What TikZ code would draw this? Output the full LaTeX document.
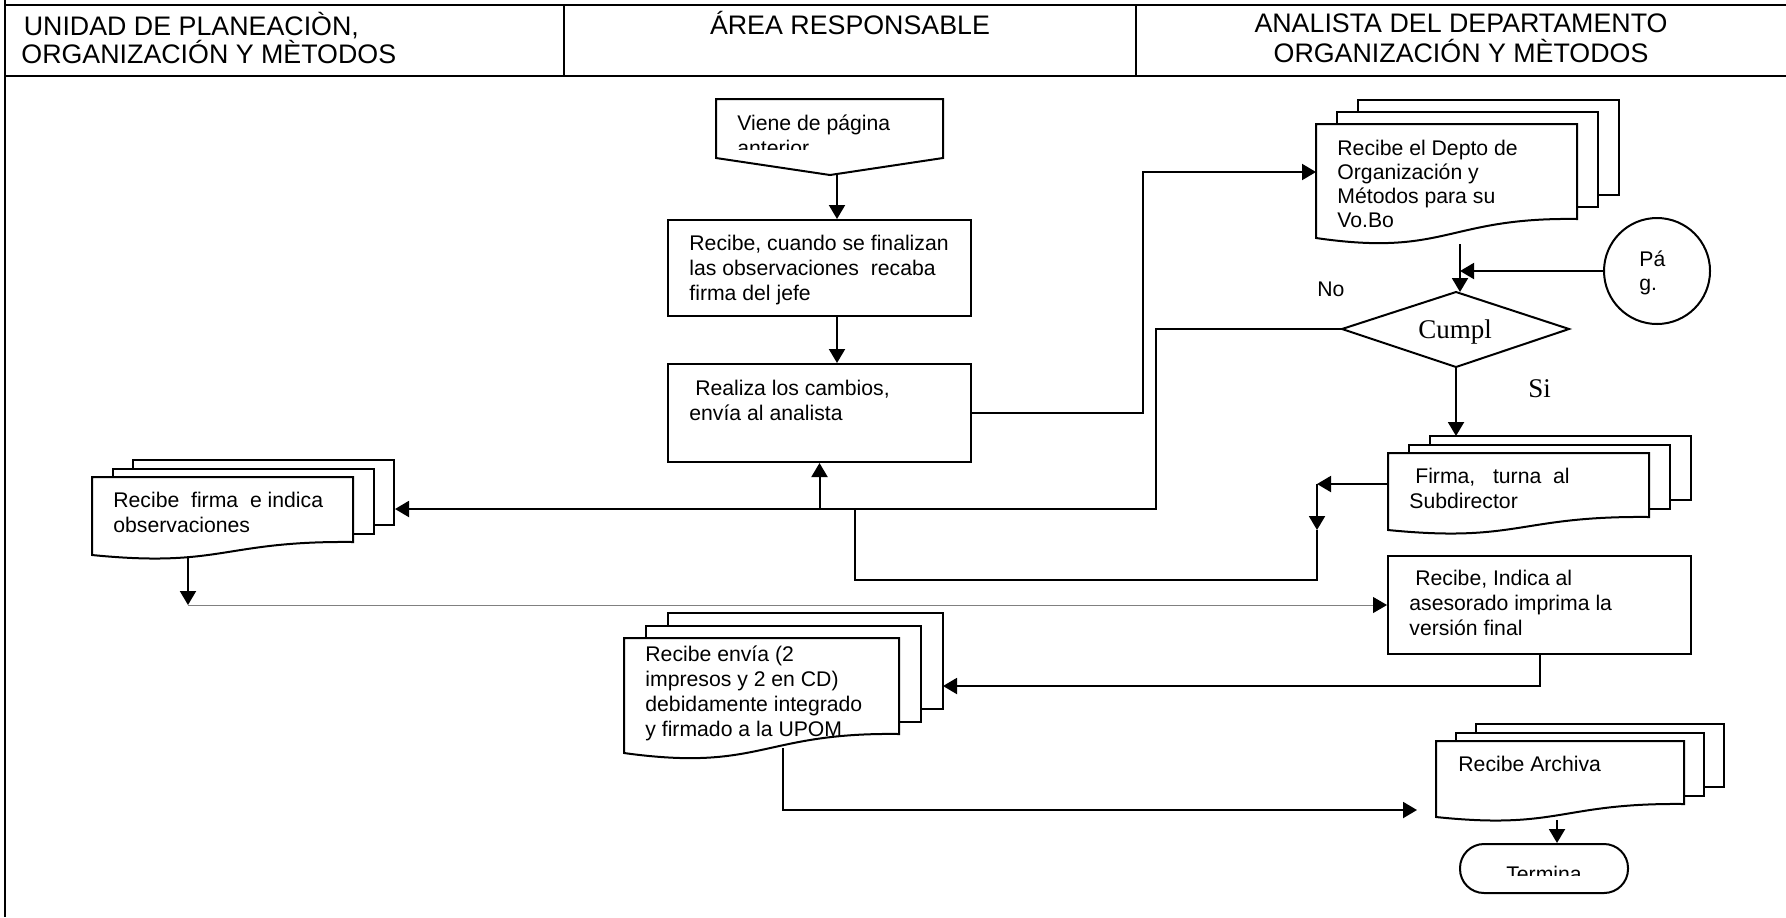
\documentclass[tikz,border=0pt]{standalone}
\usepackage{fontspec}
\setmainfont{Liberation Sans}
\newfontfamily\timesf{Liberation Serif}
\usetikzlibrary{arrows.meta,calc}
\newcommand\mlines[1]{\begin{tabular}[t]{@{}l@{}}#1\end{tabular}}
\newcommand\docstack[8]{% #1 name, #2 L, #3 T, #4 W, #5 H, #6 d, #7 dx, #8 dy
  \draw[shp] ({#2+2*#7},{#3-2*#8}) rectangle ({#2+#4+2*#7},{#3+#5-2*#8});
  \draw[shp] ({#2+#7},{#3-#8}) rectangle ({#2+#4+#7},{#3+#5-#8});
  \draw[shp] (#2,#3) -- ({#2+#4},#3) -- ({#2+#4},{#3+#5})
     .. controls ({#2+0.5*#4},{#3+#5-0.1*#6}) and ({#2+0.5*#4},{#3+#5+2*#6}) .. (#2,{#3+#5+#6}) -- cycle;
}
\tikzset{
  ln/.style={line width=1pt,draw=black},
  arr/.style={ln,-{Triangle[length=7pt,width=8pt,color=black]}},
  thinarr/.style={line width=0.5pt,draw=black!50,-{Triangle[length=7pt,width=8pt,color=black]}},
  shp/.style={line width=1pt,draw=black,fill=white},
  boxs/.style={shp,rectangle,inner sep=0pt},
  hline/.style={line width=1.2pt,draw=black},
  txt/.style={inner sep=0pt,anchor=base west,font=\fontsize{10.6}{12.6}\selectfont},
  txtb/.style={txt,font=\fontsize{10.6}{12}\selectfont},
  hdr/.style={inner sep=0pt,font=\fontsize{13.4}{15}\selectfont},
  ser/.style={inner sep=0pt,font=\timesf\fontsize{13.5}{15}\selectfont},
}
\begin{document}
\begin{tikzpicture}[x=0.5pt,y=-0.5pt]
\useasboundingbox (0,0) rectangle (1786,917);
% table frame
\draw[hline] (5,0) -- (5,917);
\draw[hline] (5,5) -- (1786,5);
\draw[hline] (5,76) -- (1786,76);
\draw[hline] (564,5) -- (564,76);
\draw[hline] (1136,5) -- (1136,76);
\node[hdr,anchor=base west] (h1a) at (16,35.5) {\ UNIDAD DE PLANEACIÒN,};
\node[hdr,anchor=base west] (h1b) at (21,63) {ORGANIZACIÓN Y MÈTODOS};
\node[hdr,anchor=base] (h2) at (850,34) {ÁREA RESPONSABLE};
\node[hdr,anchor=base] (h3a) at (1461,32) {ANALISTA DEL DEPARTAMENTO};
\node[hdr,anchor=base] (h3b) at (1461,62) {ORGANIZACIÓN Y MÈTODOS};

% off-page connector
\draw[shp] (716,99) -- (943,99) -- (943,158) -- (830,175) -- (716,158) -- cycle;
\begin{scope}
  \clip (716,99) rectangle (943,149);
  \node[txt] (viene) at (737,130) {\mlines{Viene de página\\anterior}};
\end{scope}
\coordinate (vOut) at (837,174);

% boxes
\node[boxs,minimum width=151.5pt,minimum height=48pt] (b1) at (819.5,268) {};
\node[txt] (b1t) at (689,250) {\mlines{Recibe, cuando se finalizan\\las observaciones\ \ recaba\\firma del jefe}};
\node[boxs,minimum width=151.5pt,minimum height=49pt] (b2) at (819.5,413) {};
\node[txt] (b2t) at (689,395) {\mlines{\ Realiza los cambios,\\envía al analista}};
\node[boxs,minimum width=151.5pt,minimum height=49pt] (ib) at (1539.5,605) {};
\node[txt] (ibt) at (1409,585) {\mlines{\ Recibe, Indica al\\asesorado imprima la\\versión final}};

% document stacks
\docstack{d1}{1316}{124}{261}{95}{19}{21}{12}
\node[txtb] (d1t) at (1337,155) {\mlines{Recibe el Depto de\\Organización y\\Métodos para su\\Vo.Bo}};
\docstack{ld}{92}{477}{261}{65}{13}{20.5}{8.5}
\node[txt] (ldt) at (113,507) {\mlines{Recibe\ \ firma\ \ e indica\\observaciones}};
\docstack{fd}{1388}{453}{261}{64}{13}{21}{8.5}
\node[txt] (fdt) at (1409,483) {\mlines{\ Firma,\ \ \ turna\ \ al\\Subdirector}};
\docstack{re}{624}{638}{275}{96}{19}{22}{12.5}
\node[txt] (ret) at (645,661) {\mlines{Recibe envía (2\\impresos y 2 en CD)\\debidamente integrado\\y firmado a la UPOM}};
\docstack{ar}{1436}{741}{248}{63}{13}{20}{8.5}
\node[txt] (art) at (1458,771) {Recibe Archiva};

% connector circle
\node[circle,draw=black,line width=1pt,minimum size=53pt,inner sep=0pt] (pg) at (1657,271) {};
\node[txtb] (pgt) at (1639,266) {\mlines{Pá\\g.}};

% decision
\coordinate (dW) at (1342,329);
\coordinate (dN) at (1456,292);
\coordinate (dE) at (1569,329);
\coordinate (dS) at (1456,367);
\draw[shp] (dW) -- (dN) -- (dE) -- (dS) -- cycle;
\node[ser,anchor=base] (cum) at (1455,338) {Cumpl};
\node[txt] (no) at (1317,296) {No};
\node[ser,anchor=base west] (si) at (1528,397) {Si};

% terminal
\begin{scope}
  \node[draw=black,line width=1pt,rounded corners=12pt,minimum width=84pt,minimum height=24.5pt,inner sep=0pt] (tm) at (1544,868.5) {};
  \clip (1460,844) rectangle (1628,875);
  \node[txt,anchor=base] (tmt) at (1544,881) {Termina};
\end{scope}

% coordinates for connectors
\coordinate (k1) at (1143,172);
\coordinate (d1W) at (1316,172);
\coordinate (d1B) at (1460,244);
\coordinate (d1T) at (1460,292);
\coordinate (fBT) at (1456,436);
\coordinate (nK1) at (1156,329);
\coordinate (nK2) at (1156,509);
\coordinate (ldE) at (395,509);
\coordinate (j1) at (819.5,509);
\coordinate (fW) at (1388,484);
\coordinate (fk) at (1317,484);
\coordinate (fk2) at (1317,530);
\coordinate (fk4) at (1317,580);
\coordinate (fk5) at (855,580);
\coordinate (fk3) at (855,509);
\coordinate (ldB) at (188,557);
\coordinate (ldK) at (188,605);
\coordinate (ik) at (1539.5,686);
\coordinate (reE) at (943,686);
\coordinate (reB) at (783,748);
\coordinate (reK) at (783,810);
\coordinate (arW) at (1417,810);
\coordinate (arB) at (1557,820);

% connectors
\draw[arr] (vOut) -- (b1.north -| vOut);
\draw[arr] (b1.south -| vOut) -- (b2.north -| vOut);
\draw[arr] (b2.east) -| (k1) -- (d1W);
\draw[arr] (d1B) -- (d1T);
\draw[arr] (pg.west) -- (pg.west -| d1B);
\draw[arr] (dS) -- (fBT);
\draw[arr] (dW) -- (nK1) -- (nK2) -- (ldE);
\draw[arr] (j1) -- (b2.south);
\draw[arr] (fW) -- (fk);
\draw[arr] (fk) -- (fk2);
\draw[ln] (fk2) -- (fk4) -- (fk5) -- (fk3);
\draw[arr] (ldB) -- (ldK);
\draw[thinarr] (ldK) -- (ib.west);
\draw[arr] (ib.south) -- (ik) -- (reE);
\draw[arr] (reB) -- (reK) -- (arW);
\draw[arr] (arB) -- (tm.north -| arB);
\end{tikzpicture}
\end{document}
